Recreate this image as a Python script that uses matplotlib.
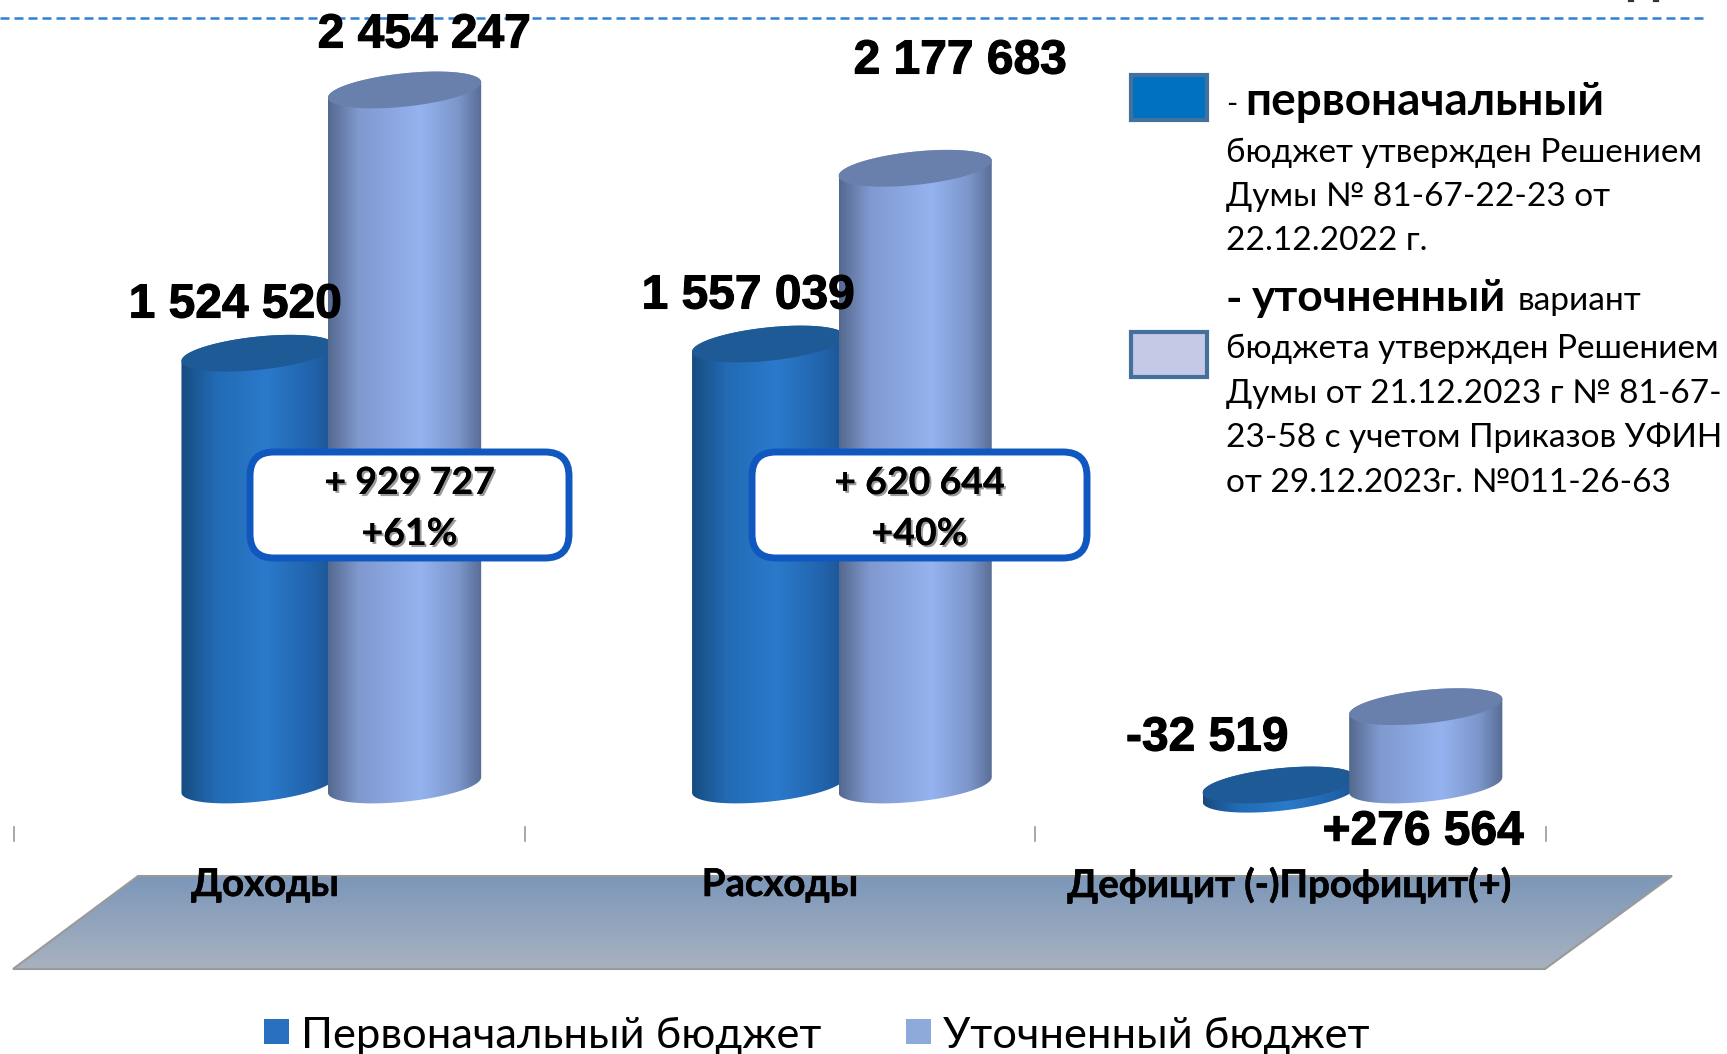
import numpy as np
import matplotlib
matplotlib.use('Agg')
import matplotlib.pyplot as plt
import matplotlib.patheffects as pe
from matplotlib.colors import LinearSegmentedColormap
from matplotlib.patches import FancyBboxPatch, PathPatch, Polygon, Rectangle
from matplotlib.path import Path

categories = ['Доходы', 'Расходы', 'Дефицит (-)Профицит(+)']
initial_budget = [1524520, 1557039, -32519]
final_budget = [2454247, 2177683, 276564]
initial_labels = ['1 524 520', '1 557 039', '-32 519']
final_labels = ['2 454 247', '2 177 683', '+276 564']
change_labels = [('+ 929 727', '+61%'), ('+ 620 644', '+40%')]
legend_names = ['Первоначальный бюджет', 'Уточненный бюджет']

W, H = 1727, 1054
SANS = 'Liberation Sans'
BODY = ['Lato', 'Noto Sans']

dark_cmap = LinearSegmentedColormap.from_list('dark', [(0, '#174C80'), (0.22, '#226AB4'), (0.55, '#2A7ACB'),
                                                       (0.85, '#2263AC'), (1, '#1B5591')])
light_cmap = LinearSegmentedColormap.from_list('light', [(0, '#55698F'), (0.2, '#8099CF'), (0.6, '#95B3EF'),
                                                         (0.85, '#7C96CB'), (1, '#586C94')])
floor_cmap = LinearSegmentedColormap.from_list('floor', ['#7C97B9', '#A8B2C0'])

fig = plt.figure(figsize=(W / 100, H / 100), dpi=100)

# the bars live on value axes, everything else on a pixel overlay
ax = fig.add_axes([0, 0, 1, 1])
ax.axis('off')
x_lim = (-0.5274, 2.855)
y_lim = (-949900, 2771900)
half_w = 0.15
cap_b = 59000
cap_k = 27200


def cap_points(cx, cy, t):
    return cx + half_w * np.cos(t), cy + cap_b * np.sin(t) + cap_k * np.cos(t)


def cylinder(cx, value, cmap, cap_color, z):
    top = max(value, 0)
    bottom = min(value, 0)
    x0, y0 = cap_points(cx, bottom, np.linspace(np.pi, 2 * np.pi, 60))
    x1, y1 = cap_points(cx, top, np.linspace(0, np.pi, 60))
    body = Path(np.column_stack([np.r_[x0, x1], np.r_[y0, y1]]))
    gradient = np.linspace(0, 1, 256).reshape(1, -1)
    im = ax.imshow(gradient, cmap=cmap, aspect='auto', zorder=z,
                   extent=(cx - half_w, cx + half_w, bottom - 2 * cap_b, top + 2 * cap_b))
    im.set_clip_path(PathPatch(body, transform=ax.transData))
    t = np.linspace(0, 2 * np.pi, 120)
    cx_cap, cy_cap = cap_points(cx, top, t)
    ax.add_patch(Polygon(np.column_stack([cx_cap, cy_cap]), facecolor=cap_color, edgecolor='none', zorder=z + 0.5))


for i in range(len(categories)):
    cylinder(i - 0.022, initial_budget[i], dark_cmap, '#1E5A96', 2 + i * 2)
    cylinder(i + 0.265, final_budget[i], light_cmap, '#6A80AC', 3 + i * 2)
ax.set_xlim(x_lim)
ax.set_ylim(y_lim)

ov = fig.add_axes([0, 0, 1, 1], zorder=5)
ov.patch.set_alpha(0)
ov.axis('off')
ov.set_xlim(0, W)
ov.set_ylim(H, 0)

ov.plot([0, 1708], [18, 18], color='#2E7FD6', lw=1.8, dashes=(3.6, 2.0))
# bits of a cropped-off heading at the very top edge
for x in [1631, 1656]:
    ov.plot([x - 2, x + 2], [1, 1], color='#333333', lw=1.6)

for x in [14, 525, 1035, 1546]:
    ov.plot([x, x], [827, 841], color='#999999', lw=1.2)

# floor
floor_pts = [(138, 876), (1672, 876), (1545, 969), (13, 969)]
floor = Polygon(floor_pts, facecolor='none', edgecolor='#9A9A9A', lw=1.5, zorder=1)
ov.add_patch(floor)
floor_im = ov.imshow(np.linspace(0, 1, 128).reshape(-1, 1), cmap=floor_cmap, aspect='auto', zorder=0.9,
                     extent=(13, 1672, 969, 876))
floor_im.set_clip_path(floor)
ov.set_xlim(0, W)
ov.set_ylim(H, 0)

# value labels
heavy = [pe.withStroke(linewidth=0.8, foreground='black')]
value_pos = [((235, 305), (424, 35)), ((748, 296), (960, 61)), ((1207, 738), (1423, 832))]
for i, (p0, p1) in enumerate(value_pos):
    ov.text(p0[0], p0[1], initial_labels[i], fontsize=34.5, fontweight='bold', family=SANS, ha='center', va='center',
            zorder=6, path_effects=heavy)
    ov.text(p1[0], p1[1], final_labels[i], fontsize=34.5, fontweight='bold', family=SANS, ha='center', va='center',
            zorder=6, path_effects=heavy)

# category labels
for name, x in zip(categories, [265, 780, 1290]):
    ov.text(x, 885, name, fontsize=27.6, fontweight='bold', family=BODY, ha='center', va='center', zorder=6,
            path_effects=[pe.withStroke(linewidth=0.4, foreground='black')])

# callouts
shadow = [pe.withSimplePatchShadow(offset=(1.5, -1.5), alpha=0.4), pe.Normal()]
for (x0, x1), (line1, line2) in zip([(250, 569), (752, 1087)], change_labels):
    box = FancyBboxPatch((x0 + 14, 452 + 14), x1 - x0 - 28, 106 - 28, boxstyle='round,pad=14,rounding_size=24',
                         facecolor='white', edgecolor='#1058C0', lw=5, zorder=7)
    ov.add_patch(box)
    for text, y in [(line1, 483), (line2, 534)]:
        ov.text((x0 + x1) / 2, y, text, fontsize=27, fontweight='bold', family=BODY, ha='center', va='center',
                zorder=8, path_effects=shadow)

# side legend
ov.add_patch(Rectangle((1131, 75), 76, 45, facecolor='#0070C0', edgecolor='#41719C', lw=3, zorder=6))
ov.add_patch(Rectangle((1131, 332), 76, 45, facecolor='#C6C9E5', edgecolor='#44709D', lw=3, zorder=6))

ov.text(1226, 104, '-', fontsize=22, family=BODY, va='center', zorder=6)
ov.text(1245, 102, 'первоначальный', fontsize=33, fontweight='bold', family=BODY, va='center', zorder=6)
side_lines = [('бюджет утвержден Решением', 153), ('Думы № 81-67-22-23 от', 197), ('22.12.2022 г.', 241),
              ('бюджета утвержден Решением', 349), ('Думы от 21.12.2023 г № 81-67-', 394),
              ('23-58 с учетом Приказов УФИН', 438), ('от 29.12.2023г. №011-26-63', 483)]
for text, y in side_lines:
    ov.text(1226, y, text, fontsize=24, family=BODY, va='center', zorder=6)
ov.text(1226, 300, '-', fontsize=32, fontweight='bold', family=BODY, va='center', zorder=6)
ov.text(1252, 298, 'уточненный', fontsize=32, fontweight='bold', family=BODY, va='center', zorder=6)
ov.text(1518, 301, 'вариант', fontsize=24, family=BODY, va='center', zorder=6)

# bottom legend
for x, color, name, tx in [(264, '#2970C0', legend_names[0], 301), (906, '#8EAADB', legend_names[1], 943)]:
    ov.add_patch(Rectangle((x, 1019), 25, 25, facecolor=color, edgecolor='none', zorder=6))
    ov.text(tx, 1036, name, fontsize=31.3, family=BODY, va='center', zorder=6)

fig.savefig('out.png', dpi=100)
